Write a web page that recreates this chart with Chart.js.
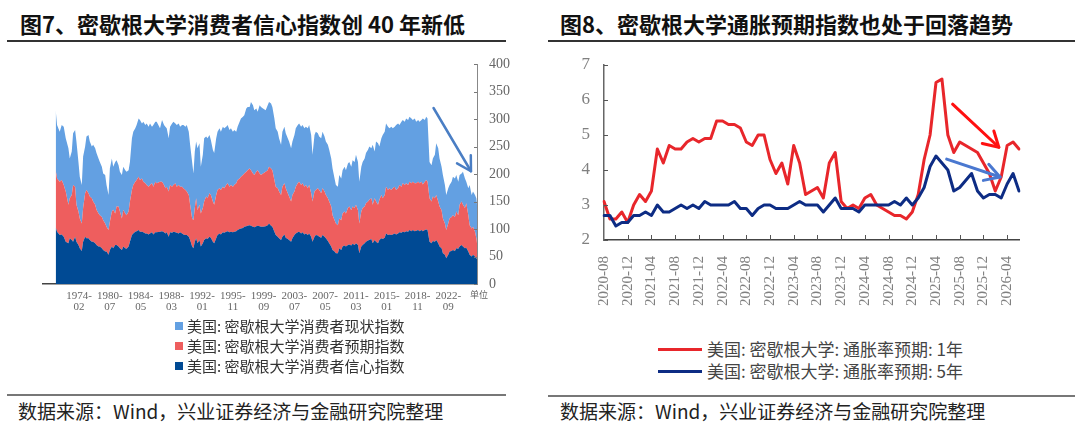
<!DOCTYPE html>
<html><head><meta charset="utf-8">
<script src="https://cdn.jsdelivr.net/npm/chart.js@4.4.1/dist/chart.umd.min.js"></script>
<style>
html,body{margin:0;padding:0;background:#fff;}
body{width:1080px;height:443px;position:relative;overflow:hidden;font-family:"Noto Sans CJK SC",sans-serif;}
.abs{position:absolute;white-space:nowrap;}
.title{font-size:22px;font-weight:bold;color:#111;line-height:26px;top:10px;}
.rule{position:absolute;}
.src{font-size:19px;color:#222;line-height:22px;top:400px;}
.lgL{font-size:15px;color:#333;line-height:18px;}
.lgR{font-size:17px;color:#444;line-height:20px;}
canvas{position:absolute;}
</style></head><body>

<div class="abs title" style="left:20px;">图7、密歇根大学消费者信心指数创 40 年新低</div>
<div class="abs title" style="left:560px;">图8、密歇根大学通胀预期指数也处于回落趋势</div>
<div class="rule" style="left:7px;top:40px;width:499px;height:2px;background:#333;"></div>
<div class="rule" style="left:548px;top:40px;width:527px;height:2px;background:#333;"></div>

<canvas id="cL" width="540" height="320" style="left:0;top:0;"></canvas>
<canvas id="cR" width="540" height="320" style="left:540px;top:0;"></canvas>

<div class="abs" style="left:470px;top:289px;font-size:9px;color:#666;line-height:12px;">单位</div>

<div id="legL"></div>
<div id="legR"></div>

<div class="rule" style="left:7px;top:394px;width:499px;height:2px;background:#777;"></div>
<div class="rule" style="left:548px;top:395px;width:527px;height:2px;background:#777;"></div>
<div class="abs src" style="left:18px;">数据来源：Wind，兴业证券经济与金融研究院整理</div>
<div class="abs src" style="left:560px;">数据来源：Wind，兴业证券经济与金融研究院整理</div>

<script>
// ---------------- Left chart data (Michigan sentiment components, stacked) ----------------
const tIdx = [0,2,6,9,12,15,19,21,24,26,29,31,34,36,39,41,44,46,49,51,54,56,59,61,64,66,69,71,74,76,79,81,84,86,89,91,94,96,99,101,104,106,109,111,114,116,119,121,124,126,129,131,134,136,139,141,144,146,149,151,156,
159,162,164,166,169,171,174,176,179,181,184,186,189,191,194,196,199,201,204,206,208,210,212,215,217,220,222,225,227,230,232,235,237,240,242,245,247,250,252,255,257,260,262,265,267,270,272,275,277,280,282,285,287,290,292,295,297,300,302,305,307,310,314,
317,319,322,324,327,329,332,334,337,339,342,344,347,349,352,354,357,359,362,364,367,369,372,374,377,379,382,384,387,389,392,394,397,399,402,404,407,409,412,414,417,419,422,424,427,429,432,434,437,439,442,444,447,449,452,454,457,459,462,464,467,469,472,
474,477,479,482,484,487,489,492,494,497,499,502,504,507,509,512,514,517,519,522,524,527,529,532,534,537,539,542,544,547,549,552,554,556,559,562,564,567,569,572,574,577,579,582,584,587,589,592,594,597,599,602,604,607,609,612,614,617,619,622,624,627,629,630];

const sentiment = [103,95,89,90,86,77,74,83,80,77,86,77,71,65,60,77,86,83,83,80,77,77,74,71,68,68,65,62,59,59,53,62,68,65,71,71,68,65,62,68,65,64,68,77,89,92,95,96,98,95,95,94,92,92,90,92,94,90,94,94,95,
96,94,92,94,86,94,93,95,94,93,92,94,92,90,89,89,86,80,68,65,77,83,74,80,68,74,80,83,82,86,84,77,74,83,89,92,90,94,93,95,96,94,95,94,95,96,98,100,101,102,104,105,106,107,106,104,103,105,106,105,104,104,105,
107,110,106,104,95,89,86,83,80,86,90,84,82,80,77,83,89,92,94,95,92,94,90,92,89,92,86,77,86,89,88,86,84,89,86,83,78,74,68,62,59,56,56,65,62,68,70,68,71,72,70,73,71,74,71,56,68,71,74,77,79,80,82,
74,80,77,74,80,83,82,84,92,89,90,89,90,92,90,92,94,93,95,94,96,95,98,96,98,96,97,98,96,98,96,98,99,98,77,74,78,77,80,74,68,65,56,53,47,53,59,60,62,60,65,64,68,71,68,65,66,59,53,50,53,50,47,45];

const expectations = [104,97,97,99,94,91,70,73,82,103,91,67,61,54,50,61,79,88,82,79,79,73,70,64,60,57,57,54,51,45,45,51,64,70,57,70,73,67,57,67,63,61,64,73,82,88,91,93,97,94,97,92,91,88,87,88,89,87,92,89,91,
90,86,82,83,82,86,84,85,89,84,88,83,85,84,82,79,76,64,51,51,61,73,60,64,60,64,70,76,74,79,78,73,70,79,82,82,81,83,81,85,87,83,85,83,85,87,91,92,94,96,97,99,101,103,101,97,95,99,101,96,94,97,99,
100,103,104,103,94,88,88,85,82,91,93,90,83,79,73,79,79,85,89,91,88,89,87,88,85,88,79,73,82,82,86,85,81,85,82,79,78,76,73,63,57,54,51,54,54,60,62,60,67,69,64,68,67,70,63,54,64,67,67,70,71,73,74,
70,76,73,70,73,79,74,78,85,82,84,82,84,85,81,82,86,84,88,86,87,85,88,87,88,87,86,88,87,88,85,88,90,88,79,76,81,79,82,76,73,69,63,57,51,57,60,62,63,62,67,61,76,79,76,73,81,66,54,51,51,45,36,29];

const current = [109,97,91,100,106,97,103,72,79,94,103,115,90,76,70,94,85,97,106,100,94,103,103,103,100,97,91,85,88,76,64,97,96,78,94,84,75,72,79,78,79,79,75,72,94,97,97,100,106,109,100,109,106,112,109,112,103,112,109,112,97,
112,109,112,106,97,106,115,115,109,112,112,109,112,115,115,121,115,109,103,85,103,103,113,112,85,97,115,109,109,106,100,94,94,103,106,109,106,109,109,106,106,103,103,100,100,94,97,103,106,106,106,115,115,112,124,124,118,115,106,124,124,118,112,
118,118,118,115,112,106,103,97,91,100,103,100,100,100,97,97,103,106,106,106,106,106,106,106,109,109,106,85,103,106,100,97,100,103,100,97,97,94,87,85,76,70,70,79,76,79,81,79,81,81,79,84,84,91,88,76,81,84,87,91,94,97,91,
109,85,109,112,97,103,115,115,115,115,109,115,109,109,118,118,109,118,115,115,118,118,118,118,112,118,112,112,112,112,120,112,115,115,66,66,69,79,94,97,87,79,79,70,64,64,61,64,70,70,66,61,54,51,60,54,39,49,73,61,64,67,73,70];

const leftTickPos = [35,81,127,173,219,265,311,357,403,449,495,541,587];
const leftTickLabels = ['1974-02','1980-07','1984-05','1988-03','1992-01','1995-11','1999-09','2003-07','2007-05','2011-03','2015-01','2018-11','2022-09'];
const leftYTicks = [0,50,100,150,200,250,300,350,400];
const leftNames = ['美国: 密歇根大学消费者现状指数','美国: 密歇根大学消费者预期指数','美国: 密歇根大学消费者信心指数'];
const leftColors = ['#63a0e2','#ee5e5e','#004a94'];
const leftArrows = [{x0:565,y0:320,x1:621,y1:205}];

// ---------------- Right chart data (inflation expectations) ----------------
const months = ['2020-08','2020-09','2020-10','2020-11','2020-12',
'2021-01','2021-02','2021-03','2021-04','2021-05','2021-06','2021-07','2021-08','2021-09','2021-10','2021-11','2021-12',
'2022-01','2022-02','2022-03','2022-04','2022-05','2022-06','2022-07','2022-08','2022-09','2022-10','2022-11','2022-12',
'2023-01','2023-02','2023-03','2023-04','2023-05','2023-06','2023-07','2023-08','2023-09','2023-10','2023-11','2023-12',
'2024-01','2024-02','2024-03','2024-04','2024-05','2024-06','2024-07','2024-08','2024-09','2024-10','2024-11','2024-12',
'2025-01','2025-02','2025-03','2025-04','2025-05','2025-06','2025-07','2025-08','2025-09','2025-10','2025-11','2025-12',
'2026-01','2026-02','2026-03','2026-04','2026-05','2026-06'];
const infl1y = [3.1,2.6,2.6,2.8,2.5,3.0,3.3,3.1,3.4,4.6,
4.2,4.7,4.6,4.6,4.8,4.9,4.8,4.9,4.9,5.4,
5.4,5.3,5.3,5.2,4.8,4.7,5.0,5.0,4.3,3.9,
4.2,3.6,4.7,4.2,3.3,3.4,3.5,3.2,4.2,4.5,
3.1,2.9,3.0,2.9,3.2,3.3,3.0,2.9,2.8,2.7,
2.7,2.6,2.8,3.3,4.3,5.0,6.5,6.6,5.0,4.5,
4.8,4.7,4.6,4.5,4.2,3.9,3.4,3.8,4.7,4.8,4.6];
const infl5y = [2.7,2.7,2.4,2.5,2.5,2.7,2.7,2.8,2.7,3.0,
2.8,2.8,2.9,3.0,2.9,3.0,2.9,3.1,3.0,3.0,
3.0,3.0,3.1,2.9,2.9,2.7,2.9,3.0,3.0,2.9,
2.9,2.9,3.0,3.1,3.0,3.0,3.0,2.8,3.0,3.2,
2.9,2.9,2.9,2.8,3.0,3.0,3.0,3.0,3.0,3.1,
3.0,3.2,3.0,3.2,3.5,4.1,4.4,4.2,4.0,3.4,
3.5,3.7,3.9,3.4,3.2,3.3,3.3,3.2,3.6,3.9,3.4];
const rightNames = ['美国: 密歇根大学: 通胀率预期: 1年','美国: 密歇根大学: 通胀率预期: 5年'];
const rightColors = ['#e8262b','#0d2c84'];
const rightArrows = [
  {x0:58.8,y0:5.88,x1:66.6,y1:4.65,color:'#ff1010'},
  {x0:57.8,y0:4.31,x1:66.8,y1:3.80,color:'#4a78d0'}
];

// ---------------- plugins ----------------
const innerTicks = {
  id:'innerTicks',
  afterDraw(chart, args, o){
    const ctx = chart.ctx, a = chart.chartArea;
    ctx.save(); ctx.strokeStyle = o.color || '#555'; ctx.lineWidth = 1;
    if (o.y){
      const s = chart.scales.y;
      s.ticks.forEach(t=>{
        const py = Math.round(s.getPixelForValue(t.value))+0.5;
        const x0 = o.y.side==='right' ? a.right : a.left;
        const x1 = o.y.side==='right' ? x0 - o.y.len : x0 + o.y.len;
        ctx.beginPath(); ctx.moveTo(x0,py); ctx.lineTo(x1,py); ctx.stroke();
      });
    }
    if (o.x){
      const s = chart.scales.x;
      s.ticks.forEach((t,i)=>{
        if (i===0 && o.x.skipFirst) return;
        const px = Math.round(s.getPixelForValue(t.value))+0.5;
        ctx.beginPath(); ctx.moveTo(px,a.bottom); ctx.lineTo(px,a.bottom-o.x.len); ctx.stroke();
      });
    }
    ctx.restore();
  }
};
const arrows = {
  id:'arrows',
  afterDatasetsDraw(chart, args, o){
    const ctx = chart.ctx, xs = chart.scales.x, ys = chart.scales.y;
    (o.items||[]).forEach(it=>{
      const x0 = xs.getPixelForValue(it.x0), y0 = ys.getPixelForValue(it.y0);
      const x1 = xs.getPixelForValue(it.x1), y1 = ys.getPixelForValue(it.y1);
      const ang = Math.atan2(y1-y0, x1-x0);
      const hl = o.head || 16, sp = (o.spread || 30)*Math.PI/180;
      ctx.save();
      ctx.strokeStyle = it.color || o.color; ctx.lineWidth = o.width || 2.5;
      ctx.lineCap = 'round'; ctx.lineJoin = 'round';
      ctx.beginPath(); ctx.moveTo(x0,y0); ctx.lineTo(x1,y1); ctx.stroke();
      ctx.beginPath();
      ctx.moveTo(x1 + hl*Math.cos(ang+Math.PI-sp), y1 + hl*Math.sin(ang+Math.PI-sp));
      ctx.lineTo(x1,y1);
      ctx.lineTo(x1 + hl*Math.cos(ang+Math.PI+sp), y1 + hl*Math.sin(ang+Math.PI+sp));
      ctx.stroke();
      ctx.restore();
    });
  }
};

// ---------------- left chart ----------------
const mk = arr => tIdx.map((t,i)=>({x:t, y:arr[i]}));
new Chart(document.getElementById('cL'), {
  type:'line',
  data:{ datasets:[
    {label:leftNames[2], data:mk(sentiment), backgroundColor:leftColors[2], borderWidth:0, pointRadius:0, fill:'origin'},
    {label:leftNames[1], data:mk(expectations), backgroundColor:leftColors[1], borderWidth:0, pointRadius:0, fill:'-1'},
    {label:leftNames[0], data:mk(current), backgroundColor:leftColors[0], borderWidth:0, pointRadius:0, fill:'-1'}
  ]},
  options:{
    responsive:false, animation:false, devicePixelRatio:1,
    layout:{padding:{left:43, top:64, right:0, bottom:0}},
    plugins:{legend:{display:false}, tooltip:{enabled:false},
      innerTicks:{color:'#777', y:{side:'right', len:3}},
      arrows:{items:leftArrows, color:'#4a7ec4', width:2.5, head:16, spread:30}},
    scales:{
      x:{type:'linear', min:-19, max:630,
        afterBuildTicks:s=>{ s.ticks = leftTickPos.map(v=>({value:v})); },
        afterFit:s=>{ s.height = 36; },
        grid:{display:false, drawTicks:false},
        border:{display:true, color:'#444', width:1.5},
        ticks:{autoSkip:false, maxRotation:0, minRotation:0, padding:6, color:'#666',
          font:{family:'"Liberation Serif", serif', size:11, lineHeight:1.05},
          callback:(v,i)=>{ const p = leftTickLabels[i].split('-'); return [p[0]+'-', p[1]]; }}
      },
      y:{position:'right', stacked:true, min:0, max:400,
        afterBuildTicks:s=>{ s.ticks = leftYTicks.map(v=>({value:v})); },
        afterFit:s=>{ s.width = 63; },
        grid:{display:false, drawTicks:false},
        border:{display:true, color:'#888', width:1},
        ticks:{padding:12, color:'#666', font:{family:'"Liberation Serif", serif', size:14}}
      }
    }
  },
  plugins:[innerTicks, arrows]
});

// ---------------- right chart ----------------
new Chart(document.getElementById('cR'), {
  type:'line',
  data:{ labels:months, datasets:[
    {label:rightNames[0], data:infl1y, borderColor:rightColors[0], borderWidth:3, pointRadius:0, tension:0, fill:false, order:1, borderJoinStyle:'round', borderCapStyle:'round'},
    {label:rightNames[1], data:infl5y, borderColor:rightColors[1], borderWidth:3, pointRadius:0, tension:0, fill:false, order:0, borderJoinStyle:'round', borderCapStyle:'round'}
  ]},
  options:{
    responsive:false, animation:false, devicePixelRatio:1,
    layout:{padding:{left:0, top:65, right:61, bottom:0}},
    plugins:{legend:{display:false}, tooltip:{enabled:false},
      innerTicks:{color:'#555', y:{side:'left', len:4}, x:{len:5, skipFirst:true}},
      arrows:{items:rightArrows, width:3, head:17, spread:30}},
    scales:{
      x:{type:'category', offset:false,
        afterBuildTicks:s=>{ s.ticks = s.ticks.filter(t=>t.value % 4 === 0); },
        afterFit:s=>{ s.height = 80; },
        grid:{display:false, drawTicks:false},
        border:{display:true, color:'#444', width:1.5},
        ticks:{autoSkip:false, maxRotation:90, minRotation:90, padding:16, color:'#808080',
          font:{family:'"Liberation Serif", serif', size:15},
          callback:function(v){ return this.getLabelForValue(v); }}
      },
      y:{min:2, max:7,
        afterFit:s=>{ s.width = 64; },
        grid:{display:false, drawTicks:false},
        border:{display:true, color:'#666', width:1.5},
        ticks:{stepSize:1, padding:14, color:'#808080', font:{family:'"Liberation Serif", serif', size:17}}
      }
    }
  },
  plugins:[innerTicks, arrows]
});

// ---------------- legends (HTML text) ----------------
const legL = document.getElementById('legL');
leftNames.forEach((n,i)=>{
  const cy = 326 + i*20;
  const sq = document.createElement('div');
  sq.className='abs'; sq.style.cssText = `left:175px;top:${cy-4}px;width:8px;height:8px;background:${leftColors[i]};`;
  const tx = document.createElement('div');
  tx.className='abs lgL'; tx.style.cssText = `left:187px;top:${cy-9}px;`; tx.textContent = n;
  legL.appendChild(sq); legL.appendChild(tx);
});
const legR = document.getElementById('legR');
rightNames.forEach((n,i)=>{
  const cy = 349 + i*22;
  const ln = document.createElement('div');
  ln.className='abs'; ln.style.cssText = `left:658px;top:${cy-1.5}px;width:44px;height:3px;background:${rightColors[i]};`;
  const tx = document.createElement('div');
  tx.className='abs lgR'; tx.style.cssText = `left:707px;top:${cy-10}px;`; tx.textContent = n;
  legR.appendChild(ln); legR.appendChild(tx);
});
</script>
</body></html>
